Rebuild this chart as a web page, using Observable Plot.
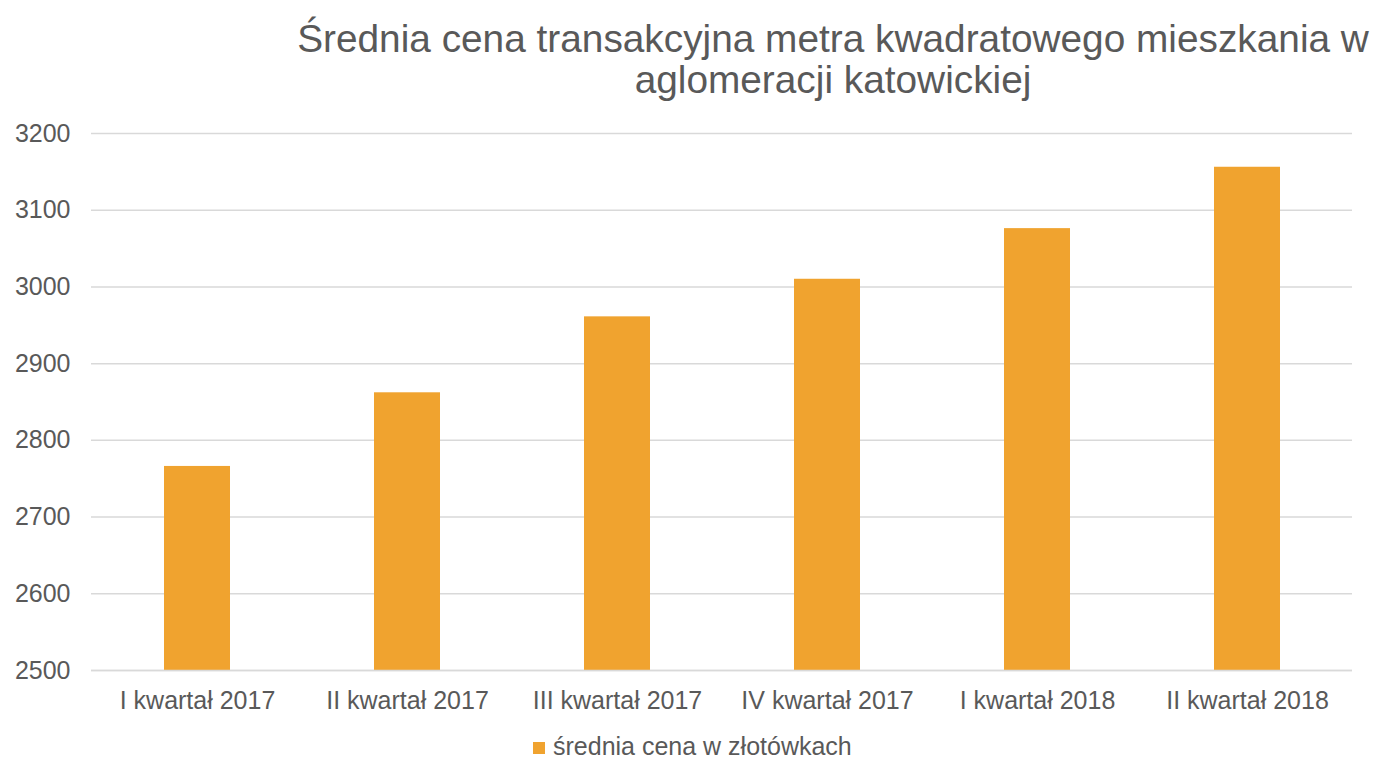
<!DOCTYPE html>
<html>
<head>
<meta charset="utf-8">
<script src="https://cdn.jsdelivr.net/npm/d3@7"></script>
<script src="https://cdn.jsdelivr.net/npm/@observablehq/plot@0.6"></script>
<style>
  html, body { margin: 0; padding: 0; background: #fff; }
  #wrap { position: relative; width: 1375px; height: 780px; overflow: hidden; font-family: "Liberation Sans", Arial, sans-serif; color: #595959; }
  #title { position: absolute; left: 233px; width: 1200px; top: 18px; text-align: center; font-size: 38.8px; line-height: 41px; color: #595959; }
  #chart { position: absolute; left: 0; top: 110px; }
  #legend { position: absolute; left: 533px; top: 729px; font-size: 25px; line-height: 34px; color: #595959; white-space: nowrap; }
  #legend .sw { display: inline-block; width: 12px; height: 12px; background: #F0A32F; margin-right: 8px; vertical-align: 1px; }
</style>
</head>
<body>
<div id="wrap">
  <div id="title">Średnia cena transakcyjna metra kwadratowego mieszkania w<br>aglomeracji katowickiej</div>
  <div id="chart"></div>
  <div id="legend"><span class="sw"></span>średnia cena w złotówkach</div>
</div>
<script>
const quarters = ["I kwartał 2017", "II kwartał 2017", "III kwartał 2017", "IV kwartał 2017", "I kwartał 2018", "II kwartał 2018"];
const prices = [2766, 2862, 2961, 3010, 3076, 3156];
const yTicks = [2500, 2600, 2700, 2800, 2900, 3000, 3100, 3200];

const data = quarters.map((q, i) => ({quarter: q, price: prices[i]}));

const chart = Plot.plot({
  width: 1375,
  height: 610,
  marginLeft: 91,
  marginRight: 23,
  marginTop: 23,
  marginBottom: 50,
  style: {fontFamily: "'Liberation Sans', Arial, sans-serif", color: "#595959", background: "transparent"},
  x: {domain: quarters, paddingInner: 0.686, paddingOuter: 0.343, label: null},
  y: {domain: [2500, 3200], label: null},
  marks: [
    Plot.gridY(yTicks, {stroke: "#D9D9D9", strokeOpacity: 1, strokeWidth: 1.5}),
    Plot.barY(data, {x: "quarter", y1: 2500, y2: "price", fill: "#F0A32F"}),
    Plot.ruleY([2500], {stroke: "#D9D9D9", strokeWidth: 1.5}),
    Plot.axisY({ticks: yTicks, tickFormat: d => String(d), tickSize: 0, tickPadding: 21, fontSize: 25, fill: "#595959", label: null}),
    Plot.axisX({tickSize: 0, tickPadding: 21, fontSize: 25, fill: "#595959", label: null})
  ]
});
document.getElementById("chart").appendChild(chart);
</script>
</body>
</html>
